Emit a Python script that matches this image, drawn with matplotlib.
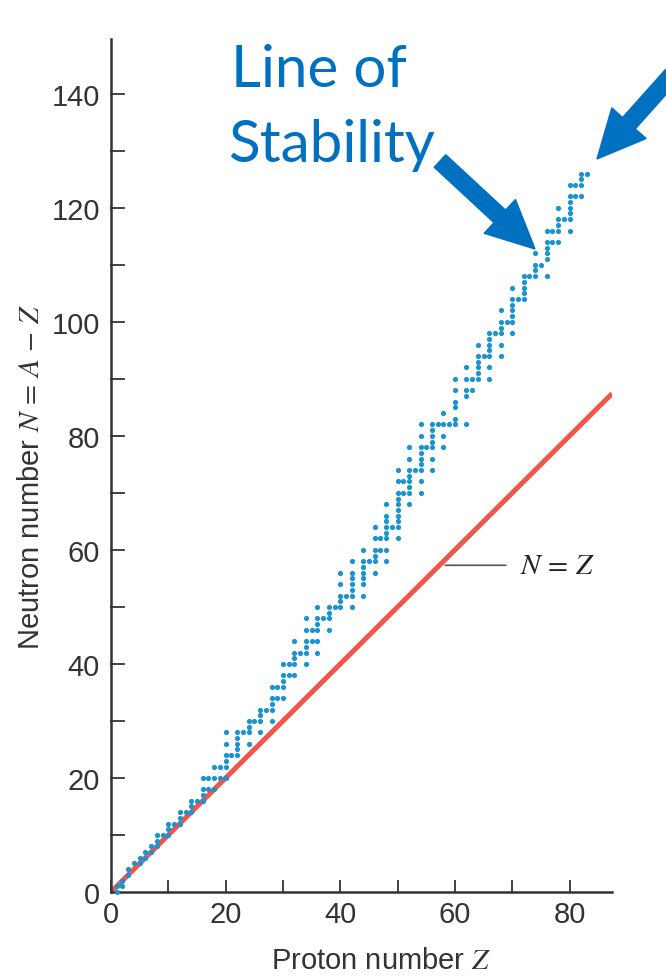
import numpy as np
import matplotlib
matplotlib.use("Agg")
import matplotlib.pyplot as plt
from matplotlib.patches import FancyArrow

plt.rcParams['font.family'] = ['Liberation Sans', 'DejaVu Sans']
plt.rcParams['mathtext.fontset'] = 'stix'

# stable nuclides: proton number and the mass numbers of its stable isotopes
proton_numbers = list(range(1, 84))
stable_mass_numbers = [
    [1, 2], [3, 4], [6, 7], [9], [10, 11], [12, 13], [14, 15], [16, 17, 18],
    [19], [20, 21, 22], [23], [24, 25, 26], [27], [28, 29, 30], [31],
    [32, 33, 34, 36], [35, 37], [36, 38, 40], [39, 41], [40, 42, 43, 44, 46, 48],
    [45], [46, 47, 48, 49, 50], [51], [50, 52, 53, 54], [55], [54, 56, 57, 58],
    [59], [58, 60, 61, 62, 64], [63, 65], [64, 66, 67, 68, 70], [69, 71],
    [70, 72, 73, 74, 76], [75], [74, 76, 77, 78, 80, 82], [79, 81],
    [78, 80, 82, 83, 84, 86], [85], [84, 86, 87, 88], [89], [90, 91, 92, 94, 96],
    [93], [92, 94, 95, 96, 97, 98, 100], [], [96, 98, 99, 100, 101, 102, 104],
    [103], [102, 104, 105, 106, 108, 110], [107, 109],
    [106, 108, 110, 111, 112, 113, 114, 116], [113],
    [112, 114, 115, 116, 117, 118, 119, 120, 122, 124], [121, 123],
    [120, 122, 123, 124, 125, 126, 128, 130], [127],
    [124, 126, 128, 129, 130, 131, 132, 134, 136], [133],
    [130, 132, 134, 135, 136, 137, 138], [139], [136, 138, 140, 142], [141],
    [142, 143, 145, 146, 148, 150], [], [144, 149, 150, 152, 154], [151, 153],
    [154, 155, 156, 157, 158, 160], [159], [156, 158, 160, 161, 162, 163, 164],
    [165], [162, 164, 166, 167, 168, 170], [169], [168, 170, 171, 172, 173, 174, 176],
    [175], [176, 177, 178, 179, 180], [181], [182, 183, 184, 186], [185],
    [184, 187, 188, 189, 190, 192], [191, 193], [192, 194, 195, 196, 198], [197],
    [196, 198, 199, 200, 201, 202, 204], [203, 205], [204, 206, 207, 208], [209],
]
x_ticks = [0, 20, 40, 60, 80]
y_ticks = [0, 20, 40, 60, 80, 100, 120, 140]

Z = []
N = []
for z, masses in zip(proton_numbers, stable_mass_numbers):
    for a in masses:
        Z.append(z)
        N.append(a - z)
Z = np.array(Z)
N = np.array(N)

fig = plt.figure(figsize=(6.66, 9.78), dpi=100)
ax = fig.add_axes([111/666, 85/978, 501/666, 853/978])

zline = np.array([0, 87.4])
ax.plot(zline, zline, color='#f0564a', lw=3.6, solid_capstyle='butt', zorder=2)
ax.scatter(Z, N, s=14, color='#1a93d3', linewidths=0, zorder=3, clip_on=False)

ax.set_xlim(0, 87.4)
ax.set_ylim(0, 149.6)
for s in ['top', 'right']:
    ax.spines[s].set_visible(False)
for s in ['left', 'bottom']:
    ax.spines[s].set_linewidth(1.8)
    ax.spines[s].set_color('#333333')

ax.set_xticks(np.arange(0, 81, 10))
ax.set_xticklabels([str(v) if v in x_ticks else '' for v in range(0, 81, 10)])
ax.set_yticks(np.arange(0, 141, 10))
ax.set_yticklabels([str(v) if v in y_ticks else '' for v in range(0, 141, 10)])
ax.tick_params(axis='x', direction='in', length=9, width=1.3, color='#333333',
               labelsize=21, labelcolor='#333333', pad=6)
ax.tick_params(axis='y', direction='out', length=0, labelsize=21,
               labelcolor='#333333', pad=8)
# y ticks sit on the right side of the spine
for v in range(10, 141, 10):
    ax.plot([0, 2.2], [v, v], color='#333333', lw=1.3, clip_on=False, zorder=1)

ax.annotate('$N\\,=\\,Z$', xy=(58.3, 57.3), xytext=(71.3, 57.3),
            fontsize=21, va='center', ha='left', color='#222222',
            arrowprops=dict(arrowstyle='-', color='#555555', lw=1.2,
                            shrinkA=8, shrinkB=0))

fig.text(381/666, 9/978, 'Proton number $Z$', fontsize=21,
         ha='center', va='baseline', color='#333333')
fig.text(31/666, 1 - 477/978, 'Neutron number $N\\,=\\,A\\,-\\,Z$', fontsize=21,
         rotation=90, ha='center', va='center', color='#333333')

fig.text(231/666, 1 - 87/978, 'Line of', fontsize=42, color='#0070c0',
         family=['Lato', 'DejaVu Sans'], ha='left', va='baseline')
fig.text(228/666, 1 - 162/978, 'Stability', fontsize=42, color='#0070c0',
         family=['Lato', 'DejaVu Sans'], ha='left', va='baseline')

W, H = 666, 978
def arrow(x0, y0, x1, y1):
    dx, dy = x1 - x0, y1 - y0
    fig.patches.append(FancyArrow(x0, H - y0, dx, -dy, width=17, head_width=46,
                                  head_length=48, length_includes_head=True,
                                  color='#0070c0', transform=None,
                                  figure=fig))

arrow(440, 162, 535, 250)
arrow(672, 76, 597, 160)

fig.savefig('out.png', dpi=100)
